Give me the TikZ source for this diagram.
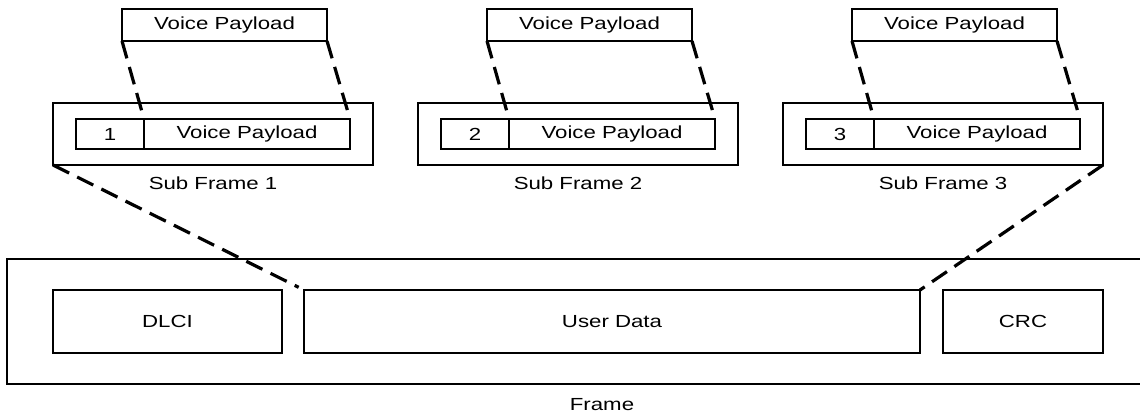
\documentclass[tikz,border=0pt]{standalone}
\usepackage{fontspec}
\setmainfont[FakeStretch=1.27]{Liberation Sans}
\usetikzlibrary{positioning}

\begin{document}
\begin{tikzpicture}[x=1pt, y=-1pt,
    box/.style={draw, line width=1.8pt, inner sep=0pt, outer sep=0pt,
                font=\fontsize{17.5}{20}\selectfont},
    caption/.style={font=\fontsize{17.5}{20}\selectfont},
    link/.style={line width=3.2pt, dash pattern=on 18pt off 9pt}]
    \useasboundingbox (0,0) rectangle (1140,417);

    % The frame with its three fields
    \node[box, minimum width=1190, minimum height=125] (frame) at (602,321.5) {};
    \node[caption] (framelbl) at (602,405) {Frame};
    \node[box, minimum width=229, minimum height=63] (dlci) at (167.5,321.5) {DLCI};
    \node[box, minimum width=616, minimum height=63] (user) at (612,321.5) {User Data};
    \node[box, minimum width=160, minimum height=63] (crc) at (1023,321.5) {CRC};

    % Sub frames, each with its payload shown above
    \foreach \i in {1,2,3} {
        \pgfmathsetmacro{\dx}{(\i-1)*365}
        \node[box, minimum width=320, minimum height=62] (sub\i) at (213+\dx,134) {};
        \node[box, minimum width=68, minimum height=30] (num\i) at (110+\dx,134) {\i};
        \node[box, minimum width=206, minimum height=30, right=0pt of num\i] (pay\i) {Voice Payload};
        \node[caption] (sublbl\i) at (213+\dx,183) {Sub Frame \i};
        \node[box, minimum width=205, minimum height=32] (top\i) at (224.5+\dx,25) {Voice Payload};
        \draw[link, shorten >=8pt] (top\i.south west) -- (pay\i.north west);
        \draw[link, shorten >=8pt] (top\i.south east) -- (pay\i.north east);
    }

    % User data is made of the sub frames
    \draw[link, shorten >=6pt] (sub1.south west) -- (user.north west);
    \draw[link] (sub3.south east) -- (user.north east);
\end{tikzpicture}
\end{document}
